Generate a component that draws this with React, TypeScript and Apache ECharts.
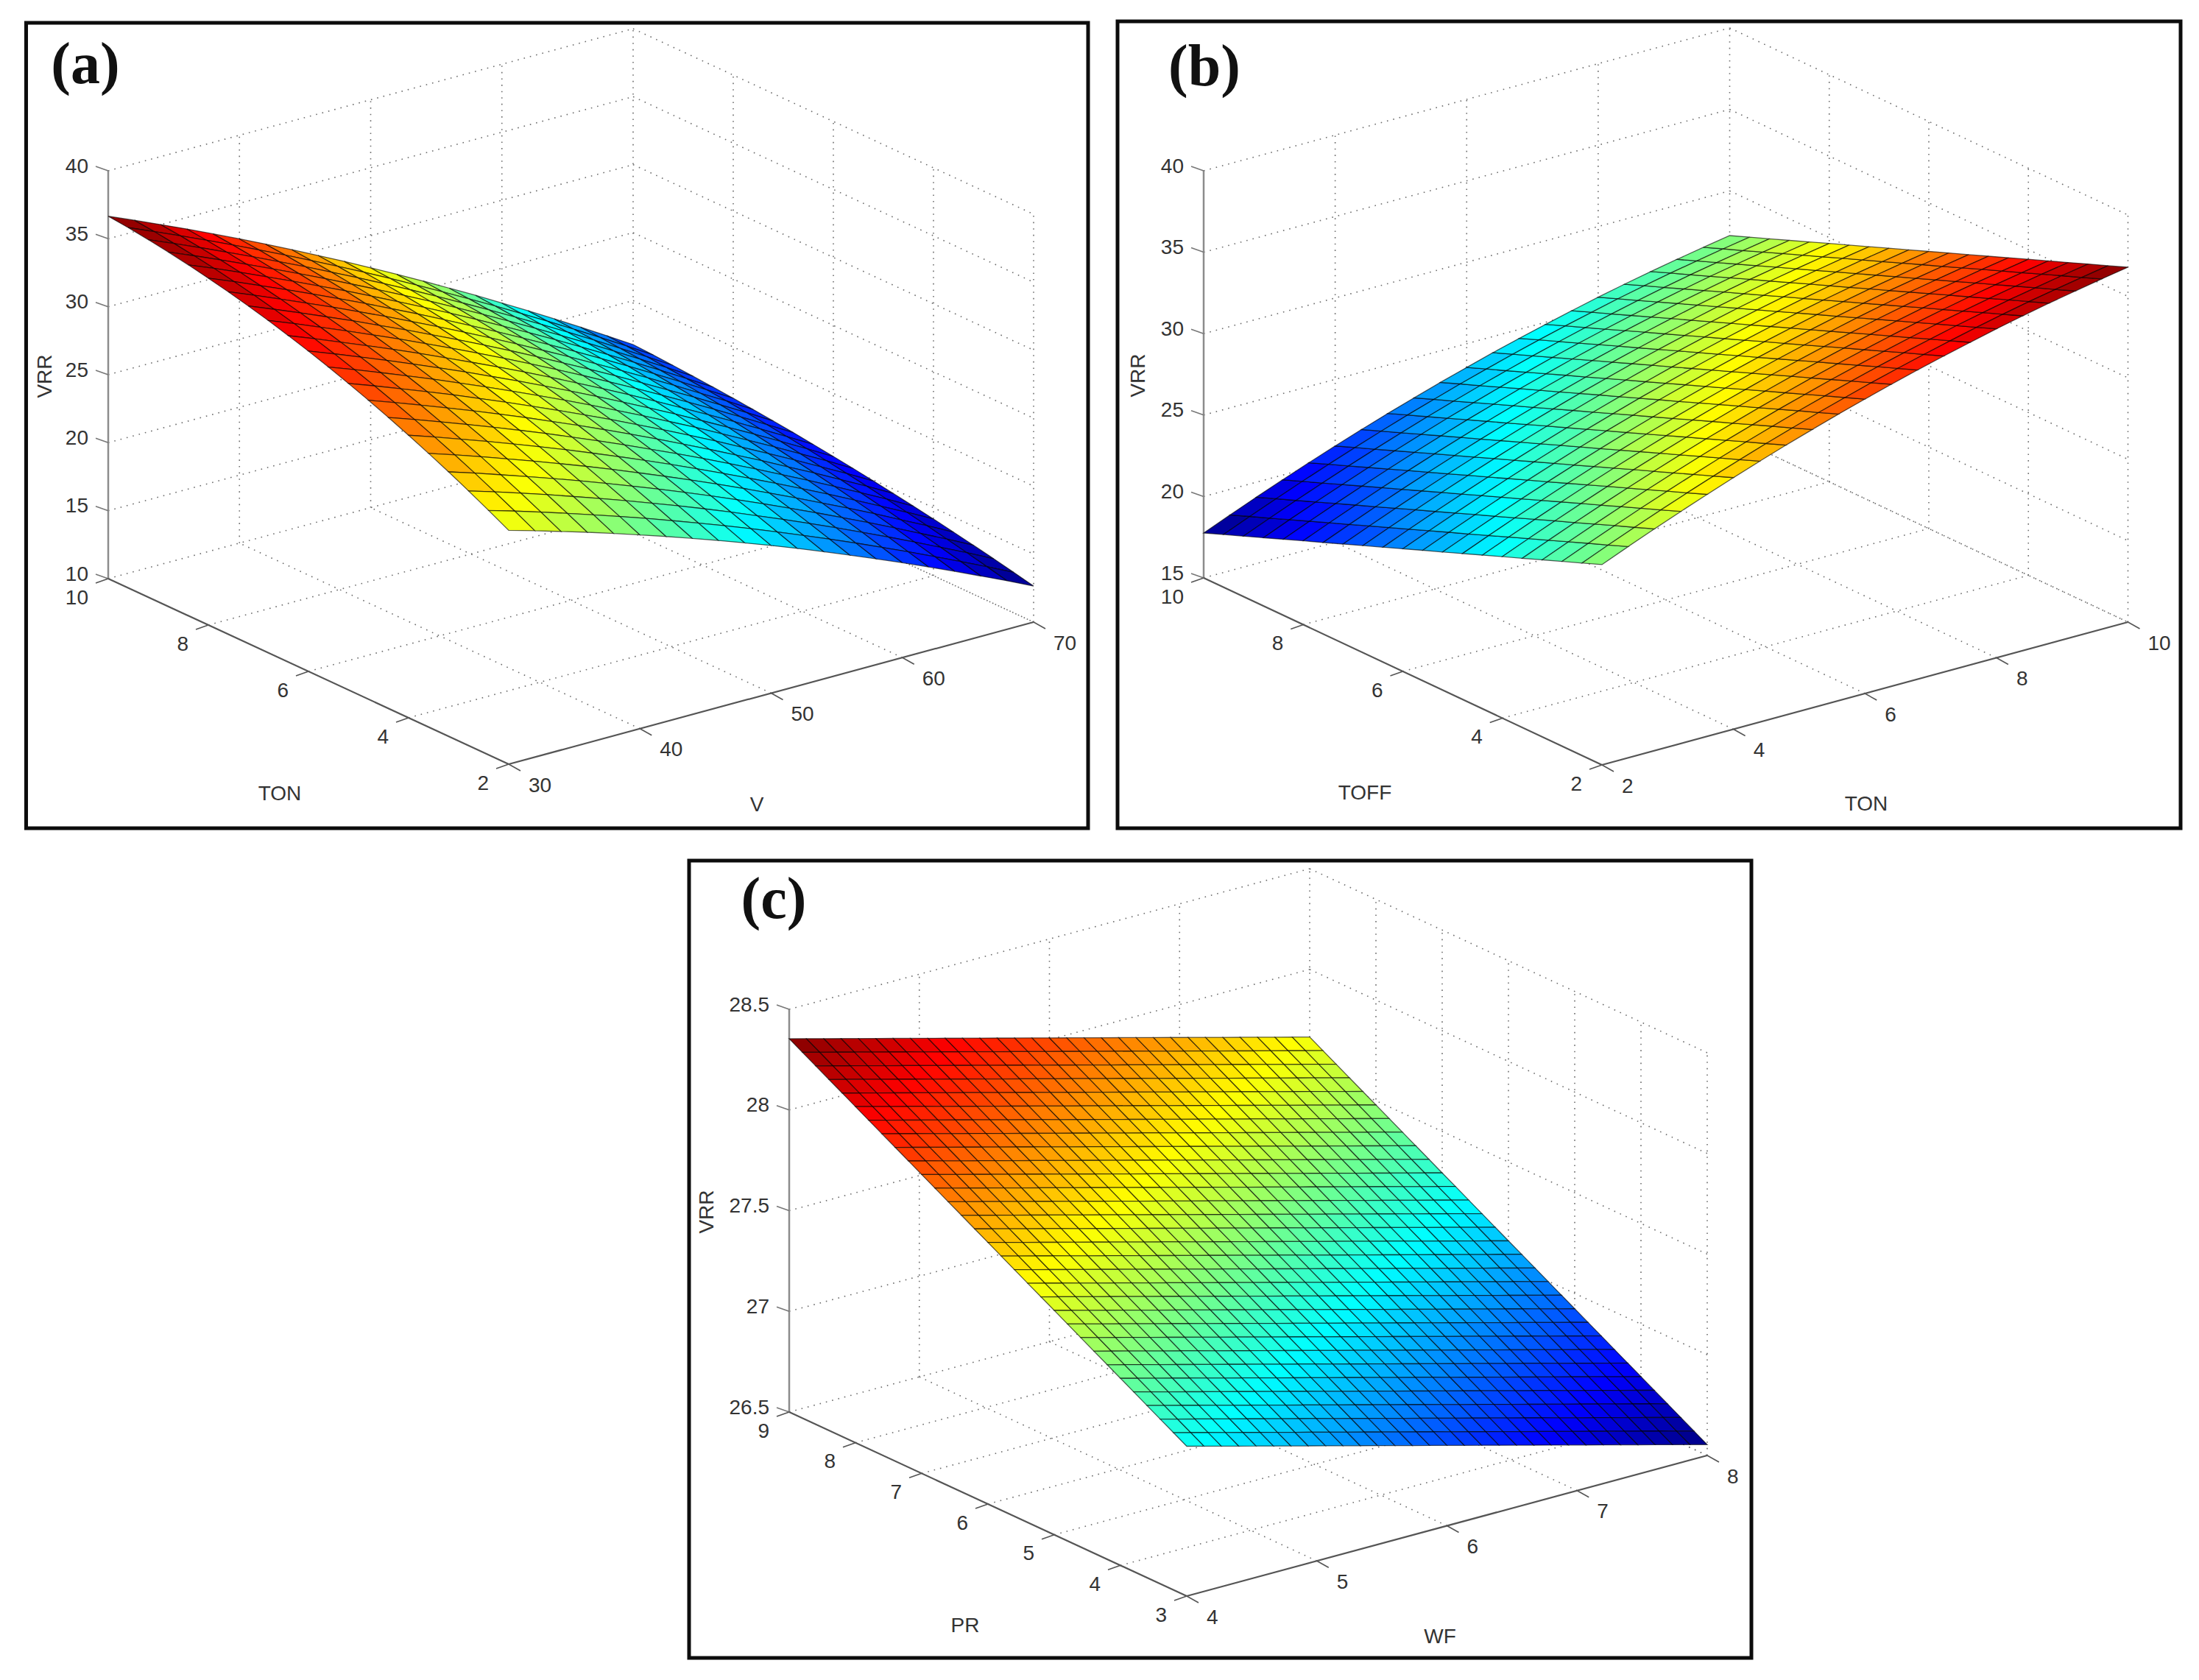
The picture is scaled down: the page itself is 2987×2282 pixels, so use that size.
import React, { useEffect, useRef } from "react";
import * as echarts from "echarts";

// ---------- tick values ----------
const V_TICKS = [30, 40, 50, 60, 70];
const TON_TICKS = [2, 4, 6, 8, 10];
const TOFF_TICKS = [2, 4, 6, 8, 10];
const VRR_A_TICKS = [10, 15, 20, 25, 30, 35, 40];
const VRR_B_TICKS = [15, 20, 25, 30, 35, 40];
const VRR_C_TICKS = [26.5, 27, 27.5, 28, 28.5];
const WF_TICKS = [4, 5, 6, 7, 8];
const PR_TICKS = [3, 4, 5, 6, 7, 8, 9];

// ---------- surface values (rows: far edge to near edge) ----------
const VRR_A = [
  [36.66,35.84,35.00,34.15,33.27,32.38,31.47,30.54,29.59,28.63,27.64,26.64,25.62,24.57,23.52,22.43,21.34,20.22,19.09,17.94,16.77],
  [36.50,35.69,34.85,34.00,33.13,32.24,31.34,30.41,29.47,28.51,27.53,26.52,25.50,24.46,23.41,22.33,21.24,20.13,19.00,17.86,16.69],
  [36.30,35.49,34.66,33.81,32.95,32.06,31.17,30.24,29.31,28.35,27.38,26.38,25.36,24.33,23.28,22.21,21.12,20.02,18.89,17.76,16.59],
  [36.07,35.27,34.44,33.60,32.74,31.86,30.97,30.05,29.12,28.17,27.21,26.22,25.21,24.18,23.14,22.07,20.99,19.89,18.77,17.64,16.48],
  [35.81,35.02,34.20,33.36,32.51,31.64,30.76,29.84,28.92,27.98,27.02,26.03,25.03,24.01,22.98,21.91,20.84,19.75,18.64,17.51,16.36],
  [35.51,34.73,33.91,33.09,32.24,31.38,30.51,29.60,28.69,27.75,26.80,25.83,24.83,23.82,22.79,21.74,20.68,19.59,18.49,17.37,16.23],
  [35.19,34.41,33.61,32.79,31.96,31.10,30.24,29.34,28.44,27.51,26.57,25.60,24.61,23.61,22.59,21.55,20.49,19.42,18.32,17.22,16.08],
  [34.83,34.06,33.27,32.46,31.64,30.79,29.94,29.05,28.16,27.24,26.31,25.35,24.37,23.38,22.37,21.34,20.29,19.23,18.14,17.05,15.92],
  [34.44,33.69,32.90,32.11,31.29,30.46,29.61,28.74,27.85,26.95,26.03,25.08,24.12,23.13,22.14,21.11,20.08,19.02,17.95,16.86,15.75],
  [34.01,33.27,32.49,31.71,30.91,30.09,29.25,28.39,27.52,26.63,25.72,24.78,23.83,22.86,21.87,20.86,19.84,18.80,17.73,16.66,15.56],
  [33.56,32.83,32.07,31.30,30.51,29.70,28.88,28.03,27.17,26.29,25.39,24.47,23.53,22.57,21.60,20.60,19.59,18.56,17.51,16.45,15.36],
  [33.07,32.35,31.61,30.85,30.08,29.28,28.47,27.64,26.79,25.93,25.04,24.13,23.21,22.26,21.31,20.32,19.32,18.31,17.27,16.23,15.15],
  [32.54,31.84,31.11,30.37,29.61,28.82,28.03,27.21,26.38,25.53,24.66,23.77,22.86,21.93,20.99,20.01,19.03,18.03,17.01,15.98,14.92],
  [31.99,31.30,30.59,29.86,29.12,28.35,27.58,26.77,25.96,25.12,24.26,23.39,22.49,21.58,20.65,19.70,18.72,17.75,16.74,15.73,14.68],
  [31.40,30.73,30.03,29.32,28.60,27.85,27.09,26.30,25.50,24.68,23.84,22.99,22.11,21.21,20.30,19.36,18.41,17.45,16.46,15.46,14.43],
  [30.78,30.13,29.45,28.76,28.05,27.32,26.58,25.81,25.03,24.23,23.41,22.56,21.70,20.82,19.93,19.01,18.08,17.13,16.16,15.18,14.17],
  [30.13,29.50,28.84,28.16,27.47,26.76,26.04,25.29,24.52,23.74,22.94,22.12,21.28,20.41,19.54,18.64,17.73,16.80,15.84,14.88,13.89],
  [29.45,28.84,28.19,27.54,26.87,26.18,25.47,24.74,24.00,23.24,22.46,21.65,20.83,19.99,19.13,18.25,17.36,16.45,15.51,14.57,13.60],
  [28.73,28.14,27.52,26.89,26.23,25.56,24.88,24.17,23.45,22.71,21.95,21.16,20.36,19.54,18.71,17.85,16.98,16.08,15.17,14.25,13.30],
  [27.98,27.41,26.81,26.20,25.57,24.92,24.26,23.57,22.87,22.15,21.41,20.65,19.87,19.07,18.26,17.42,16.57,15.70,14.81,13.91,12.98],
  [27.20,26.65,26.07,25.49,24.88,24.25,23.61,22.95,22.27,21.57,20.86,20.12,19.36,18.58,17.79,16.98,16.15,15.30,14.43,13.56,12.65],
];

const VRR_B = [
  [17.76,18.43,19.08,19.71,20.32,20.91,21.48,22.03,22.55,23.06,23.54,24.01,24.45,24.87,25.27,25.66,26.02,26.36,26.67,26.97,27.25],
  [18.24,18.91,19.56,20.19,20.80,21.39,21.96,22.51,23.03,23.54,24.02,24.49,24.93,25.35,25.75,26.14,26.50,26.84,27.15,27.45,27.73],
  [18.71,19.38,20.03,20.66,21.27,21.86,22.43,22.98,23.50,24.01,24.49,24.96,25.40,25.82,26.22,26.61,26.97,27.31,27.62,27.92,28.20],
  [19.19,19.86,20.51,21.14,21.75,22.34,22.91,23.46,23.98,24.49,24.97,25.44,25.88,26.30,26.70,27.09,27.45,27.79,28.10,28.40,28.68],
  [19.67,20.34,20.99,21.62,22.23,22.82,23.39,23.94,24.46,24.97,25.45,25.92,26.36,26.78,27.18,27.57,27.93,28.27,28.58,28.88,29.16],
  [20.15,20.82,21.47,22.10,22.71,23.30,23.87,24.42,24.94,25.45,25.93,26.40,26.84,27.26,27.66,28.05,28.41,28.75,29.06,29.36,29.64],
  [20.62,21.29,21.94,22.57,23.18,23.77,24.34,24.89,25.41,25.92,26.40,26.87,27.31,27.73,28.13,28.52,28.88,29.22,29.53,29.83,30.11],
  [21.10,21.77,22.42,23.05,23.66,24.25,24.82,25.37,25.89,26.40,26.88,27.35,27.79,28.21,28.61,29.00,29.36,29.70,30.01,30.31,30.59],
  [21.58,22.25,22.90,23.53,24.14,24.73,25.30,25.85,26.37,26.88,27.36,27.83,28.27,28.69,29.09,29.48,29.84,30.18,30.49,30.79,31.07],
  [22.05,22.72,23.37,24.00,24.61,25.20,25.77,26.32,26.84,27.35,27.83,28.30,28.74,29.16,29.56,29.95,30.31,30.65,30.96,31.26,31.54],
  [22.53,23.20,23.85,24.48,25.09,25.68,26.25,26.80,27.32,27.83,28.31,28.78,29.22,29.64,30.04,30.43,30.79,31.13,31.44,31.74,32.02],
  [23.01,23.68,24.33,24.96,25.57,26.16,26.73,27.28,27.80,28.31,28.79,29.26,29.70,30.12,30.52,30.91,31.27,31.61,31.92,32.22,32.50],
  [23.48,24.15,24.80,25.43,26.04,26.63,27.20,27.75,28.27,28.78,29.26,29.73,30.17,30.59,30.99,31.38,31.74,32.08,32.39,32.69,32.97],
  [23.96,24.63,25.28,25.91,26.52,27.11,27.68,28.23,28.75,29.26,29.74,30.21,30.65,31.07,31.47,31.86,32.22,32.56,32.87,33.17,33.45],
  [24.44,25.11,25.76,26.39,27.00,27.59,28.16,28.71,29.23,29.74,30.22,30.69,31.13,31.55,31.95,32.34,32.70,33.04,33.35,33.65,33.93],
  [24.92,25.59,26.24,26.87,27.48,28.07,28.64,29.19,29.71,30.22,30.70,31.17,31.61,32.03,32.43,32.82,33.18,33.52,33.83,34.13,34.41],
  [25.39,26.06,26.71,27.34,27.95,28.54,29.11,29.66,30.18,30.69,31.17,31.64,32.08,32.50,32.90,33.29,33.65,33.99,34.30,34.60,34.88],
  [25.87,26.54,27.19,27.82,28.43,29.02,29.59,30.14,30.66,31.17,31.65,32.12,32.56,32.98,33.38,33.77,34.13,34.47,34.78,35.08,35.36],
  [26.35,27.02,27.67,28.30,28.91,29.50,30.07,30.62,31.14,31.65,32.13,32.60,33.04,33.46,33.86,34.25,34.61,34.95,35.26,35.56,35.84],
  [26.82,27.49,28.14,28.77,29.38,29.97,30.54,31.09,31.61,32.12,32.60,33.07,33.51,33.93,34.33,34.72,35.08,35.42,35.73,36.03,36.31],
  [27.30,27.97,28.62,29.25,29.86,30.45,31.02,31.57,32.09,32.60,33.08,33.55,33.99,34.41,34.81,35.20,35.56,35.90,36.21,36.51,36.79],
];

const VRR_C = [
  [28.354,28.331,28.308,28.285,28.262,28.239,28.216,28.193,28.170,28.147,28.124,28.101,28.078,28.055,28.032,28.009,27.986,27.963,27.940,27.917,27.894,27.871,27.848,27.825,27.802,27.779,27.756,27.733,27.710,27.687,27.664],
  [28.317,28.294,28.271,28.248,28.225,28.202,28.179,28.156,28.133,28.110,28.087,28.064,28.041,28.018,27.995,27.972,27.949,27.926,27.903,27.880,27.857,27.834,27.811,27.788,27.765,27.742,27.719,27.696,27.673,27.650,27.627],
  [28.280,28.257,28.234,28.211,28.188,28.165,28.142,28.119,28.096,28.073,28.050,28.027,28.004,27.981,27.958,27.935,27.912,27.889,27.866,27.843,27.820,27.797,27.774,27.751,27.728,27.705,27.682,27.659,27.636,27.613,27.590],
  [28.243,28.220,28.197,28.174,28.151,28.128,28.105,28.082,28.059,28.036,28.013,27.990,27.967,27.944,27.921,27.898,27.875,27.852,27.829,27.806,27.783,27.760,27.737,27.714,27.691,27.668,27.645,27.622,27.599,27.576,27.553],
  [28.206,28.183,28.160,28.137,28.114,28.091,28.068,28.045,28.022,27.999,27.976,27.953,27.930,27.907,27.884,27.861,27.838,27.815,27.792,27.769,27.746,27.723,27.700,27.677,27.654,27.631,27.608,27.585,27.562,27.539,27.516],
  [28.169,28.146,28.123,28.100,28.077,28.054,28.031,28.008,27.985,27.962,27.939,27.916,27.893,27.870,27.847,27.824,27.801,27.778,27.755,27.732,27.709,27.686,27.663,27.640,27.617,27.594,27.571,27.548,27.525,27.502,27.479],
  [28.132,28.109,28.086,28.063,28.040,28.017,27.994,27.971,27.948,27.925,27.902,27.879,27.856,27.833,27.810,27.787,27.764,27.741,27.718,27.695,27.672,27.649,27.626,27.603,27.580,27.557,27.534,27.511,27.488,27.465,27.442],
  [28.095,28.072,28.049,28.026,28.003,27.980,27.957,27.934,27.911,27.888,27.865,27.842,27.819,27.796,27.773,27.750,27.727,27.704,27.681,27.658,27.635,27.612,27.589,27.566,27.543,27.520,27.497,27.474,27.451,27.428,27.405],
  [28.058,28.035,28.012,27.989,27.966,27.943,27.920,27.897,27.874,27.851,27.828,27.805,27.782,27.759,27.736,27.713,27.690,27.667,27.644,27.621,27.598,27.575,27.552,27.529,27.506,27.483,27.460,27.437,27.414,27.391,27.368],
  [28.021,27.998,27.975,27.952,27.929,27.906,27.883,27.860,27.837,27.814,27.791,27.768,27.745,27.722,27.699,27.676,27.653,27.630,27.607,27.584,27.561,27.538,27.515,27.492,27.469,27.446,27.423,27.400,27.377,27.354,27.331],
  [27.984,27.961,27.938,27.915,27.892,27.869,27.846,27.823,27.800,27.777,27.754,27.731,27.708,27.685,27.662,27.639,27.616,27.593,27.570,27.547,27.524,27.501,27.478,27.455,27.432,27.409,27.386,27.363,27.340,27.317,27.294],
  [27.947,27.924,27.901,27.878,27.855,27.832,27.809,27.786,27.763,27.740,27.717,27.694,27.671,27.648,27.625,27.602,27.579,27.556,27.533,27.510,27.487,27.464,27.441,27.418,27.395,27.372,27.349,27.326,27.303,27.280,27.257],
  [27.910,27.887,27.864,27.841,27.818,27.795,27.772,27.749,27.726,27.703,27.680,27.657,27.634,27.611,27.588,27.565,27.542,27.519,27.496,27.473,27.450,27.427,27.404,27.381,27.358,27.335,27.312,27.289,27.266,27.243,27.220],
  [27.873,27.850,27.827,27.804,27.781,27.758,27.735,27.712,27.689,27.666,27.643,27.620,27.597,27.574,27.551,27.528,27.505,27.482,27.459,27.436,27.413,27.390,27.367,27.344,27.321,27.298,27.275,27.252,27.229,27.206,27.183],
  [27.836,27.813,27.790,27.767,27.744,27.721,27.698,27.675,27.652,27.629,27.606,27.583,27.560,27.537,27.514,27.491,27.468,27.445,27.422,27.399,27.376,27.353,27.330,27.307,27.284,27.261,27.238,27.215,27.192,27.169,27.146],
  [27.799,27.776,27.753,27.730,27.707,27.684,27.661,27.638,27.615,27.592,27.569,27.546,27.523,27.500,27.477,27.454,27.431,27.408,27.385,27.362,27.339,27.316,27.293,27.270,27.247,27.224,27.201,27.178,27.155,27.132,27.109],
  [27.762,27.739,27.716,27.693,27.670,27.647,27.624,27.601,27.578,27.555,27.532,27.509,27.486,27.463,27.440,27.417,27.394,27.371,27.348,27.325,27.302,27.279,27.256,27.233,27.210,27.187,27.164,27.141,27.118,27.095,27.072],
  [27.725,27.702,27.679,27.656,27.633,27.610,27.587,27.564,27.541,27.518,27.495,27.472,27.449,27.426,27.403,27.380,27.357,27.334,27.311,27.288,27.265,27.242,27.219,27.196,27.173,27.150,27.127,27.104,27.081,27.058,27.035],
  [27.688,27.665,27.642,27.619,27.596,27.573,27.550,27.527,27.504,27.481,27.458,27.435,27.412,27.389,27.366,27.343,27.320,27.297,27.274,27.251,27.228,27.205,27.182,27.159,27.136,27.113,27.090,27.067,27.044,27.021,26.998],
  [27.651,27.628,27.605,27.582,27.559,27.536,27.513,27.490,27.467,27.444,27.421,27.398,27.375,27.352,27.329,27.306,27.283,27.260,27.237,27.214,27.191,27.168,27.145,27.122,27.099,27.076,27.053,27.030,27.007,26.984,26.961],
  [27.614,27.591,27.568,27.545,27.522,27.499,27.476,27.453,27.430,27.407,27.384,27.361,27.338,27.315,27.292,27.269,27.246,27.223,27.200,27.177,27.154,27.131,27.108,27.085,27.062,27.039,27.016,26.993,26.970,26.947,26.924],
  [27.577,27.554,27.531,27.508,27.485,27.462,27.439,27.416,27.393,27.370,27.347,27.324,27.301,27.278,27.255,27.232,27.209,27.186,27.163,27.140,27.117,27.094,27.071,27.048,27.025,27.002,26.979,26.956,26.933,26.910,26.887],
  [27.540,27.517,27.494,27.471,27.448,27.425,27.402,27.379,27.356,27.333,27.310,27.287,27.264,27.241,27.218,27.195,27.172,27.149,27.126,27.103,27.080,27.057,27.034,27.011,26.988,26.965,26.942,26.919,26.896,26.873,26.850],
  [27.503,27.480,27.457,27.434,27.411,27.388,27.365,27.342,27.319,27.296,27.273,27.250,27.227,27.204,27.181,27.158,27.135,27.112,27.089,27.066,27.043,27.020,26.997,26.974,26.951,26.928,26.905,26.882,26.859,26.836,26.813],
  [27.466,27.443,27.420,27.397,27.374,27.351,27.328,27.305,27.282,27.259,27.236,27.213,27.190,27.167,27.144,27.121,27.098,27.075,27.052,27.029,27.006,26.983,26.960,26.937,26.914,26.891,26.868,26.845,26.822,26.799,26.776],
  [27.429,27.406,27.383,27.360,27.337,27.314,27.291,27.268,27.245,27.222,27.199,27.176,27.153,27.130,27.107,27.084,27.061,27.038,27.015,26.992,26.969,26.946,26.923,26.900,26.877,26.854,26.831,26.808,26.785,26.762,26.739],
  [27.392,27.369,27.346,27.323,27.300,27.277,27.254,27.231,27.208,27.185,27.162,27.139,27.116,27.093,27.070,27.047,27.024,27.001,26.978,26.955,26.932,26.909,26.886,26.863,26.840,26.817,26.794,26.771,26.748,26.725,26.702],
  [27.355,27.332,27.309,27.286,27.263,27.240,27.217,27.194,27.171,27.148,27.125,27.102,27.079,27.056,27.033,27.010,26.987,26.964,26.941,26.918,26.895,26.872,26.849,26.826,26.803,26.780,26.757,26.734,26.711,26.688,26.665],
  [27.318,27.295,27.272,27.249,27.226,27.203,27.180,27.157,27.134,27.111,27.088,27.065,27.042,27.019,26.996,26.973,26.950,26.927,26.904,26.881,26.858,26.835,26.812,26.789,26.766,26.743,26.720,26.697,26.674,26.651,26.628],
  [27.281,27.258,27.235,27.212,27.189,27.166,27.143,27.120,27.097,27.074,27.051,27.028,27.005,26.982,26.959,26.936,26.913,26.890,26.867,26.844,26.821,26.798,26.775,26.752,26.729,26.706,26.683,26.660,26.637,26.614,26.591],
  [27.244,27.221,27.198,27.175,27.152,27.129,27.106,27.083,27.060,27.037,27.014,26.991,26.968,26.945,26.922,26.899,26.876,26.853,26.830,26.807,26.784,26.761,26.738,26.715,26.692,26.669,26.646,26.623,26.600,26.577,26.554],
];

// ---------- layout of the three panels (page pixels) ----------
const FONT = "'Liberation Sans', Arial, sans-serif";
const SERIF = "'Liberation Serif', 'Times New Roman', serif";

const PANELS: any[] = [
  {
    tag: "(a)", tagAt: [116, 86],
    frame: { l: 35.5, t: 31, r: 1478, b: 1125 },
    origin: [691, 1038], xVec: [713, -193], yVec: [-544, -252], zVec: [0, -554],
    xTicks: V_TICKS, yTicks: TON_TICKS, zTicks: VRR_A_TICKS, table: VRR_A,
    titles: [
      { text: "TON", at: [380, 1077] },
      { text: "V", at: [1028, 1092] },
      { text: "VRR", at: [60, 511], rot: true },
    ],
  },
  {
    tag: "(b)", tagAt: [1636, 89],
    frame: { l: 1518, t: 29, r: 2962, b: 1125 },
    origin: [2176, 1039], xVec: [714.5, -194], yVec: [-541, -254], zVec: [0, -553],
    xTicks: TON_TICKS, yTicks: TOFF_TICKS, zTicks: VRR_B_TICKS, table: VRR_B,
    titles: [
      { text: "TOFF", at: [1854, 1076] },
      { text: "TON", at: [2535, 1091] },
      { text: "VRR", at: [1545, 510], rot: true },
    ],
  },
  {
    tag: "(c)", tagAt: [1051, 1220],
    frame: { l: 936, t: 1169, r: 2379, b: 2252 },
    origin: [1612, 2168], xVec: [707, -191], yVec: [-540, -250], zVec: [0, -547],
    xTicks: WF_TICKS, yTicks: PR_TICKS, zTicks: VRR_C_TICKS, table: VRR_C,
    titles: [
      { text: "PR", at: [1311, 2207] },
      { text: "WF", at: [1956, 2222] },
      { text: "VRR", at: [959, 1646], rot: true },
    ],
  },
];

function jet(t: number): string {
  const c = (v: number) => Math.round(255 * Math.max(0, Math.min(1, v)));
  const r = c(Math.min(4 * t - 1.5, -4 * t + 4.5));
  const g = c(Math.min(4 * t - 0.5, -4 * t + 3.5));
  const b = c(Math.min(4 * t + 0.5, -4 * t + 2.5));
  return `rgb(${r},${g},${b})`;
}

function buildPanel(p: any, k: number) {
  const xs = p.xTicks, ys = p.yTicks, zs = p.zTicks;
  const x0 = xs[0], x1 = xs[xs.length - 1];
  const y0 = ys[0], y1 = ys[ys.length - 1];
  const z0 = zs[0], z1 = zs[zs.length - 1];
  const f = p.frame;
  const project = (x: number, y: number, z: number): number[] => {
    const a = (x - x0) / (x1 - x0), b = (y - y0) / (y1 - y0), c = (z - z0) / (z1 - z0);
    return [
      p.origin[0] + a * p.xVec[0] + b * p.yVec[0] + c * p.zVec[0] - f.l,
      p.origin[1] + a * p.xVec[1] + b * p.yVec[1] + c * p.zVec[1] - f.t,
    ];
  };
  const base = { type: "custom", coordinateSystem: "cartesian2d", xAxisIndex: k, yAxisIndex: k, silent: true, clip: false };

  // dotted wall and floor lines
  const dotted: number[][] = [];
  zs.forEach((z: number) => {
    dotted.push([x0, y1, z, x1, y1, z]);
    dotted.push([x1, y1, z, x1, y0, z]);
  });
  xs.filter((x: number) => x !== x0).forEach((x: number) => {
    dotted.push([x, y1, z0, x, y1, z1]);
    dotted.push([x, y0, z0, x, y1, z0]);
  });
  ys.filter((y: number) => y !== y1).forEach((y: number) => {
    dotted.push([x1, y, z0, x1, y, z1]);
    if (y !== y0) dotted.push([x0, y, z0, x1, y, z0]);
  });
  const lineOf = (a: number[], b: number[], api: any, style: any) => {
    const pa = api.coord(a), pb = api.coord(b);
    return { type: "line", shape: { x1: pa[0], y1: pa[1], x2: pb[0], y2: pb[1] }, style };
  };
  const dottedSeries = {
    ...base, z: 1,
    data: dotted.map((_, i) => [i, 0]),
    renderItem: (params: any, api: any) => {
      const s = dotted[params.dataIndex];
      return lineOf(project(s[0], s[1], s[2]), project(s[3], s[4], s[5]), api, {
        stroke: "#6e6e6e", lineWidth: 1.6, lineDash: [1.6, 7], fill: null,
      });
    },
  };

  // solid axes and tick marks
  const solid: any[] = [
    { a: project(x0, y1, z0), b: project(x0, y1, z1), c: "#8c8c8c", w: 2.5 },
    { a: project(x0, y0, z0), b: project(x1, y0, z0), c: "#555", w: 2.2 },
    { a: project(x0, y0, z0), b: project(x0, y1, z0), c: "#555", w: 2.2 },
  ];
  const add = (q: number[], d: number[]) => [q[0] + d[0], q[1] + d[1]];
  zs.forEach((z: number) => {
    const q = project(x0, y1, z);
    solid.push({ a: q, b: add(q, [-17, -6]), c: "#777", w: 1.6 });
  });
  ys.forEach((y: number) => {
    const q = project(x0, y, z0);
    solid.push({ a: q, b: add(q, [-17, 6]), c: "#555", w: 1.6 });
  });
  xs.forEach((x: number) => {
    const q = project(x, y0, z0);
    solid.push({ a: q, b: add(q, [16, 9]), c: "#555", w: 1.6 });
  });
  const solidSeries = {
    ...base, z: 2,
    data: solid.map((_, i) => [i, 0]),
    renderItem: (params: any, api: any) => {
      const s = solid[params.dataIndex];
      return lineOf(s.a, s.b, api, { stroke: s.c, lineWidth: s.w, fill: null });
    },
  };

  // surface cells
  const table: number[][] = p.table;
  const rows = table.length, cols = table[0].length;
  let lo = Infinity, hi = -Infinity;
  table.forEach((r) => r.forEach((v) => { lo = Math.min(lo, v); hi = Math.max(hi, v); }));
  const cells: number[][] = [];
  for (let j = 0; j < rows - 1; j++) for (let i = 0; i < cols - 1; i++) cells.push([i, j]);
  const node = (i: number, j: number) =>
    project(x0 + ((x1 - x0) * i) / (cols - 1), y1 - ((y1 - y0) * j) / (rows - 1), table[j][i]);
  const surfaceSeries = {
    ...base, z: 3,
    data: cells,
    renderItem: (_: any, api: any) => {
      const i = api.value(0), j = api.value(1);
      const mean = (table[j][i] + table[j][i + 1] + table[j + 1][i] + table[j + 1][i + 1]) / 4;
      const pts = [node(i, j), node(i + 1, j), node(i + 1, j + 1), node(i, j + 1)].map((q) => api.coord(q));
      return {
        type: "polygon",
        shape: { points: pts },
        style: { fill: jet((mean - lo) / (hi - lo)), stroke: "rgba(0,0,0,0.62)", lineWidth: 1.3 },
      };
    },
  };

  // texts
  const texts: any[] = [];
  const lab = (q: number[], text: string, align: string, font: string, fill: string, rot?: boolean) =>
    texts.push({ q, text, align, font, fill, rot });
  const tickFont = `28px ${FONT}`;
  zs.forEach((z: number) => {
    const q = project(x0, y1, z);
    lab([q[0] - 27, q[1] - 7], String(z), "right", tickFont, "#333");
  });
  ys.forEach((y: number) => {
    const q = project(x0, y, z0);
    lab([q[0] - 27, q[1] + 25], String(y), "right", tickFont, "#333");
  });
  xs.forEach((x: number) => {
    const q = project(x, y0, z0);
    lab([q[0] + 27, q[1] + 28], String(x), "left", tickFont, "#333");
  });
  p.titles.forEach((t: any) =>
    lab([t.at[0] - f.l, t.at[1] - f.t], t.text, "center", tickFont, "#333", t.rot));
  lab([p.tagAt[0] - f.l, p.tagAt[1] - f.t], p.tag, "center", `bold 80px ${SERIF}`, "#111");
  const textSeries = {
    ...base, z: 4,
    data: texts.map((_, i) => [i, 0]),
    renderItem: (params: any, api: any) => {
      const t = texts[params.dataIndex];
      const q = api.coord(t.q);
      return {
        type: "text", x: q[0], y: q[1], rotation: t.rot ? Math.PI / 2 : 0,
        style: { text: t.text, font: t.font, fill: t.fill, align: t.align, verticalAlign: "middle" },
      };
    },
  };

  return {
    grid: {
      show: true, left: f.l, top: f.t, width: f.r - f.l, height: f.b - f.t,
      borderColor: "#0c0c0c", borderWidth: 5, backgroundColor: "#fff",
    },
    xAxis: { type: "value", gridIndex: k, min: 0, max: f.r - f.l, show: false },
    yAxis: { type: "value", gridIndex: k, min: 0, max: f.b - f.t, inverse: true, show: false },
    series: [dottedSeries, solidSeries, surfaceSeries, textSeries],
  };
}

export default function App() {
  const ref = useRef<HTMLDivElement>(null);
  useEffect(() => {
    const chart = echarts.init(ref.current as HTMLDivElement, undefined, { renderer: "svg" });
    const built = PANELS.map(buildPanel);
    chart.setOption({
      animation: false,
      backgroundColor: "#fff",
      grid: built.map((b) => b.grid),
      xAxis: built.map((b) => b.xAxis),
      yAxis: built.map((b) => b.yAxis),
      series: built.flatMap((b) => b.series),
    });
    return () => chart.dispose();
  }, []);
  return <div ref={ref} style={{ position: "absolute", left: 0, top: 0, width: 2987, height: 2282 }} />;
}
